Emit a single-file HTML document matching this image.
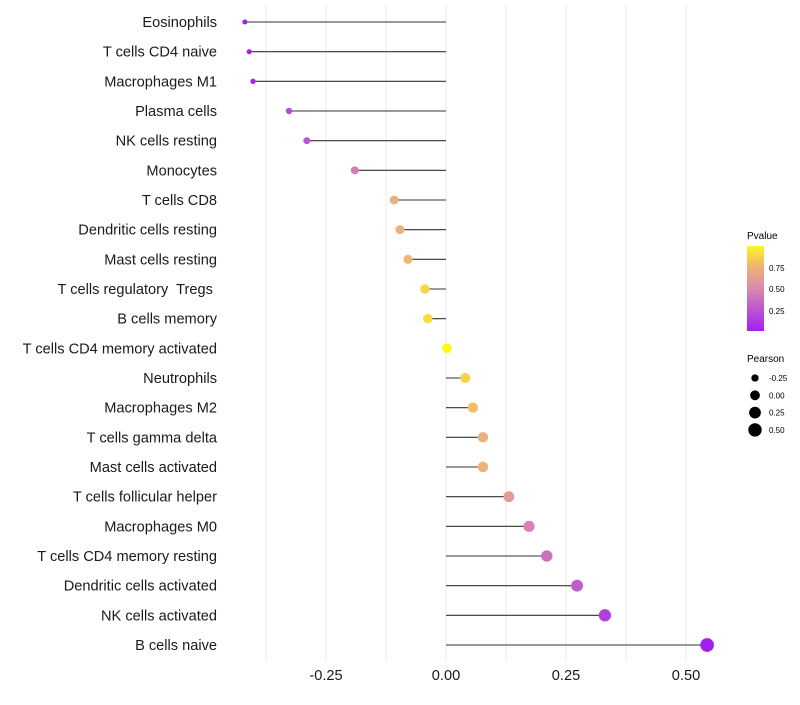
<!DOCTYPE html>
<html><head><meta charset="utf-8"><style>
body{margin:0;background:#fff;font-family:"Liberation Sans",sans-serif;}
svg text{font-family:"Liberation Sans",sans-serif;white-space:pre;}
</style></head><body>
<svg id="chart" width="800" height="700" xmlns="http://www.w3.org/2000/svg">
<defs><linearGradient id="pg" x1="0" y1="1" x2="0" y2="0">
<stop offset="0" stop-color="#A020F0"/><stop offset="0.5" stop-color="#D98AAE"/><stop offset="0.78" stop-color="#F0B870"/><stop offset="1" stop-color="#FFF520"/>
</linearGradient></defs>
<g id="grid"></g>
<g id="marks"></g>
<g id="labels"></g>
<g id="xticks"></g>
<g>
<text x="747" y="239" font-size="10">Pvalue</text>
<rect x="747" y="246" width="17" height="85" fill="url(#pg)"/>
<text x="769" y="271" font-size="8">0.75</text>
<text x="769" y="292" font-size="8">0.50</text>
<text x="769" y="314" font-size="8">0.25</text>
</g>
<g id="sizeleg">
<text x="747" y="362" font-size="10">Pearson</text>
</g>
</svg>
<script>
const categories=["Eosinophils","T cells CD4 naive","Macrophages M1","Plasma cells","NK cells resting","Monocytes","T cells CD8","Dendritic cells resting","Mast cells resting","T cells regulatory  Tregs ","B cells memory","T cells CD4 memory activated","Neutrophils","Macrophages M2","T cells gamma delta","Mast cells activated","T cells follicular helper","Macrophages M0","T cells CD4 memory resting","Dendritic cells activated","NK cells activated","B cells naive"];
const pearson=[-0.419,-0.410,-0.402,-0.327,-0.290,-0.190,-0.108,-0.096,-0.079,-0.044,-0.038,0.002,0.040,0.056,0.077,0.077,0.131,0.173,0.210,0.273,0.331,0.544];
const pvalue=[0.03,0.04,0.05,0.22,0.26,0.45,0.72,0.74,0.76,0.88,0.9,0.99,0.87,0.8,0.74,0.74,0.62,0.48,0.4,0.3,0.18,0.01];
const xTicks=[-0.25,0,0.25,0.5];
const xTickLabels=["-0.25","0.00","0.25","0.50"];
const legendVals=[-0.25,0,0.25,0.5];
const legendLabels=["-0.25","0.00","0.25","0.50"];
const NS="http://www.w3.org/2000/svg";
const X=v=>446+v*480;
const Y=i=>22+i*(623/21);
const R=v=>Math.sqrt(Math.max(2,24+42*v));
function col(p){const st=[[0,[160,32,240]],[0.5,[217,138,174]],[0.78,[240,184,112]],[1,[255,245,32]]];
 p=Math.max(0,Math.min(1,(p-0.03)/0.96));
 for(let k=1;k<st.length;k++){if(p<=st[k][0]){const a=st[k-1],b=st[k];const t=(p-a[0])/(b[0]-a[0]);
 return "rgb("+a[1].map((c,j)=>Math.round(c+(b[1][j]-c)*t)).join(",")+")";}}return "rgb(255,245,32)";}
function mk(t,a,parent){const e=document.createElementNS(NS,t);for(const k in a)e.setAttribute(k,a[k]);parent.appendChild(e);return e;}
const grid=document.getElementById('grid');
for(let g=-0.375;g<=0.5;g+=0.125){const l=mk('line',{x1:X(g),x2:X(g),y1:5,y2:662,stroke:'#ebebeb','stroke-width':1},grid);

}
const marks=document.getElementById('marks'),labels=document.getElementById('labels');
categories.forEach((c,i)=>{
 const l=mk('line',{x1:X(0),x2:X(pearson[i]),y1:Y(i),y2:Y(i),stroke:'#333','stroke-width':1.1},marks);
 
 
 const p=mk('circle',{cx:X(pearson[i]),cy:Y(i),r:R(pearson[i]),fill:col(pvalue[i])},marks);
 
 
 const t=mk('text',{x:217,y:Y(i)+5,'text-anchor':'end','font-size':14.6,fill:'#1a1a1a'},labels);t.textContent=c;
 
 
});
const xt=document.getElementById('xticks');
xTicks.forEach((v,i)=>{const t=mk('text',{x:X(v),y:680,'text-anchor':'middle','font-size':14.6,fill:'#1a1a1a'},xt);t.textContent=xTickLabels[i];
 
 });
const sl=document.getElementById('sizeleg');
legendVals.forEach((v,i)=>{const yy=378+i*17.3;
 const c=mk('circle',{cx:755,cy:yy,r:R(v),fill:'#000'},sl);
 
 
 const t=mk('text',{x:769,y:yy+3,'font-size':8},sl);t.textContent=legendLabels[i];
 
 });
</script>
</body></html>
